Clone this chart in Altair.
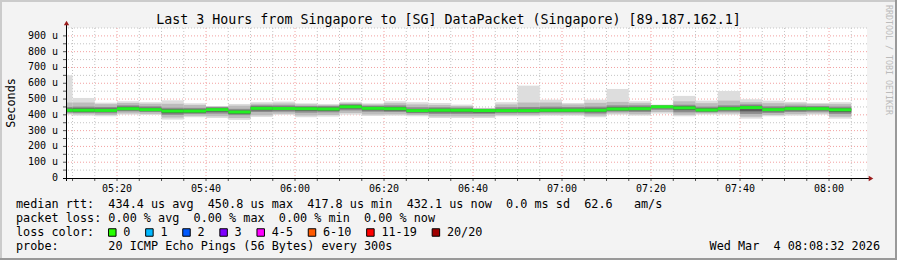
import altair as alt
import pandas as pd

# ---------------- data ----------------
title_text = "Last 3 Hours from Singapore to [SG] DataPacket (Singapore) [89.187.162.1]"
side_text = "RRDTOOL / TOBI OETIKER"
y_title = "Seconds"
domain_start = "05:08:32"
domain_end = "08:08:32"

bin_start = ["05:05", "05:10", "05:15", "05:20", "05:25", "05:30", "05:35", "05:40", "05:45", "05:50", "05:55",
             "06:00", "06:05", "06:10", "06:15", "06:20", "06:25", "06:30", "06:35", "06:40", "06:45", "06:50", "06:55",
             "07:00", "07:05", "07:10", "07:15", "07:20", "07:25", "07:30", "07:35", "07:40", "07:45", "07:50", "07:55",
             "08:00"]
median_us = [429, 429, 428, 439, 433, 424, 424, 433, 418, 441, 440, 439, 437, 451, 441, 439, 427, 429, 429, 427, 427, 427,
             429, 429, 429, 437, 439, 451, 444, 431, 439, 446, 433, 439, 439, 432]
max_us = [651, 507, 477, 486, 480, 492, 473, 456, 469, 480, 484, 473, 469, 482, 473, 486, 480, 475, 465, 444, 480, 585,
          496, 475, 496, 564, 486, 465, 520, 490, 551, 499, 490, 482, 475, 480]
min_us = [401, 395, 391, 401, 399, 370, 385, 380, 368, 387, 400, 385, 389, 401, 393, 395, 391, 380, 380, 380, 391, 391,
          395, 395, 385, 401, 395, 408, 391, 401, 401, 376, 391, 395, 401, 376]
hi2_us = [478, 478, 468, 475, 470, 470, 462, 452, 458, 470, 472, 466, 462, 474, 466, 474, 466, 462, 456, 441, 466, 478,
          478, 466, 476, 482, 474, 462, 486, 474, 490, 480, 474, 472, 468, 468]
lo2_us = [407, 403, 399, 409, 406, 383, 394, 391, 380, 397, 407, 396, 399, 412, 402, 403, 399, 390, 390, 390, 398, 398,
          402, 402, 395, 409, 403, 418, 400, 409, 409, 388, 399, 404, 409, 388]
hi3_us = [450, 452, 450, 460, 454, 445, 444, 450, 438, 460, 460, 456, 456, 468, 458, 460, 448, 448, 446, 438, 448, 450,
          452, 450, 452, 460, 460, 460, 464, 452, 460, 466, 454, 458, 456, 452]
lo3_us = [414, 412, 410, 422, 418, 400, 406, 408, 398, 418, 420, 414, 416, 428, 420, 418, 410, 406, 406, 406, 410, 410,
          414, 414, 408, 420, 418, 432, 416, 416, 420, 406, 412, 418, 420, 406]
hi4_us = [440, 441, 440, 451, 445, 435, 434, 442, 428, 452, 451, 449, 447, 461, 451, 450, 437, 439, 438, 434, 437, 438,
          440, 439, 440, 448, 450, 457, 455, 442, 450, 457, 444, 449, 448, 442]
lo4_us = [420, 418, 418, 429, 424, 410, 413, 420, 406, 428, 429, 426, 425, 440, 429, 426, 416, 416, 416, 414, 417, 417,
          420, 420, 417, 427, 428, 442, 430, 422, 429, 422, 422, 428, 429, 417]

y_major = [100, 200, 300, 400, 500, 600, 700, 800, 900]
y_minor = [50, 150, 250, 350, 450, 550, 650, 750, 850, 950]
y_labels = [0, 100, 200, 300, 400, 500, 600, 700, 800, 900]
x_major = ["05:20", "05:40", "06:00", "06:20", "06:40", "07:00", "07:20", "07:40", "08:00"]
x_minor = ["05:10", "05:15", "05:25", "05:30", "05:35", "05:45", "05:50", "05:55", "06:05", "06:10", "06:15",
           "06:25", "06:30", "06:35", "06:45", "06:50", "06:55", "07:05", "07:10", "07:15", "07:25", "07:30",
           "07:35", "07:45", "07:50", "07:55", "08:05"]

rtt_stats = [434.4, 450.8, 417.8, 432.1]
rtt_sd_ms = 0.0
rtt_ams = 62.6
loss_stats = [0.00, 0.00, 0.00, 0.00]
loss_labels = ["0", "1", "2", "3", "4-5", "6-10", "11-19", "20/20"]
loss_colors = ["#26ff00", "#00b8ff", "#0059ff", "#7e00ff", "#ff00ff", "#ff5a00", "#ff0000", "#a00000"]
probe_text = "20 ICMP Echo Pings (56 Bytes) every 300s"
date_text = "Wed Mar  4 08:08:32 2026"

# ---------------- layout / style ----------------
FONT = "DejaVu Sans Mono"
W, H = 801, 150
OX, OY = 66, 28
PAD = {"left": OX, "top": OY, "right": 897 - OX - W, "bottom": 260 - OY - H}
STEP_MIN = 5
SMOKE_COLORS = ["#dddddd", "#bcbcbc", "#8c8c8c", "#5a5a5a"]
GREEN = "#22f022"
CHW = 7.1  # legend char width


def tmin(s):
    p = [int(v) for v in s.split(":")]
    return p[0] * 60 + p[1] + (p[2] / 60 if len(p) > 2 else 0)


def nb(s):
    return s.replace(" ", "\u00a0")


xs = alt.Scale(domain=[tmin(domain_start), tmin(domain_end)], nice=False, zero=False)
ys = alt.Scale(domain=[0, 950], nice=False, zero=False)

starts = [tmin(s) for s in bin_start]
ends = [s + STEP_MIN for s in starts]

one = pd.DataFrame({"a": [0]})
layers = []

# grid
layers.append(alt.Chart(pd.DataFrame({"v": y_minor})).mark_rule(color="#c4c4c4", strokeDash=[1, 2]).encode(
    y=alt.Y("v:Q", scale=ys, axis=None)))
layers.append(alt.Chart(pd.DataFrame({"t": [tmin(t) for t in x_minor]})).mark_rule(color="#c4c4c4", strokeDash=[1, 2]).encode(
    x=alt.X("t:Q", scale=xs, axis=None)))
layers.append(alt.Chart(pd.DataFrame({"v": y_major})).mark_rule(color="#f2a0a0", strokeDash=[1, 2]).encode(
    y=alt.Y("v:Q", scale=ys, axis=None)))
layers.append(alt.Chart(pd.DataFrame({"t": [tmin(t) for t in x_major]})).mark_rule(color="#f2a0a0", strokeDash=[1, 2]).encode(
    x=alt.X("t:Q", scale=xs, axis=None)))

# smoke: one layer per band, outermost first
bands = [(min_us, max_us), (lo2_us, hi2_us), (lo3_us, hi3_us), (lo4_us, hi4_us)]
for (lo, hi), col in zip(bands, SMOKE_COLORS):
    bdf = pd.DataFrame({"s": starts, "e": ends, "lo": lo, "hi": hi})
    layers.append(alt.Chart(bdf).mark_rect(clip=True, color=col, opacity=1).encode(
        x=alt.X("s:Q", scale=xs, axis=None), x2="e:Q",
        y=alt.Y("lo:Q", scale=ys, axis=None), y2="hi:Q"))

# median
med_df = pd.DataFrame({"s": starts, "e": ends, "m": median_us})
layers.append(alt.Chart(med_df).mark_rule(clip=True, color=GREEN, strokeWidth=3, strokeCap="butt").encode(
    x=alt.X("s:Q", scale=xs, axis=None), x2="e:Q", y=alt.Y("m:Q", scale=ys, axis=None)))

# ticks
layers.append(alt.Chart(pd.DataFrame({"v": y_minor[:-1] + y_major})).mark_rule(color="#555555").encode(
    y=alt.Y("v:Q", scale=ys, axis=None), x=alt.value(-3), x2=alt.value(0)))
layers.append(alt.Chart(pd.DataFrame({"t": [tmin(t) for t in x_minor + x_major]})).mark_rule(color="#555555").encode(
    x=alt.X("t:Q", scale=xs, axis=None), y=alt.value(H), y2=alt.value(H + 3)))

# axis lines + arrows
layers.append(alt.Chart(one).mark_rule(color="#000000").encode(
    x=alt.value(0.5), y=alt.value(-5), y2=alt.value(H + 3)))
layers.append(alt.Chart(one).mark_rule(color="#000000").encode(
    y=alt.value(H + 0.5), x=alt.value(-3), x2=alt.value(W + 3)))
layers.append(alt.Chart(one).mark_point(shape="triangle-up", filled=True, size=28, color="#9b1c1c", opacity=1).encode(
    x=alt.value(0.5), y=alt.value(-5)))
layers.append(alt.Chart(one).mark_point(shape="triangle-right", filled=True, size=28, color="#9b1c1c", opacity=1).encode(
    x=alt.value(W + 4), y=alt.value(H + 0.5)))

# axis labels
xl = pd.DataFrame({"t": [tmin(t) for t in x_major], "lab": x_major})
layers.append(alt.Chart(xl).mark_text(font=FONT, fontSize=10, color="#000000", baseline="alphabetic", align="center").encode(
    x=alt.X("t:Q", scale=xs, axis=None), y=alt.value(164), text="lab:N"))
yl = pd.DataFrame({"v": y_labels, "lab": ["0\u00a0\u00a0" if v == 0 else f"{v} u" for v in y_labels]})
layers.append(alt.Chart(yl).mark_text(font=FONT, fontSize=10, color="#000000", baseline="middle", align="right").encode(
    y=alt.Y("v:Q", scale=ys, axis=None), x=alt.value(-8), text="lab:N"))


def txt(text, x, y, size=11.8, align="left", angle=0, color="#000000", baseline="alphabetic"):
    return alt.Chart(pd.DataFrame({"t": [nb(text)]})).mark_text(
        font=FONT, fontSize=size, align=align, baseline=baseline, angle=angle, color=color).encode(
        text="t:N", x=alt.value(x - OX), y=alt.value(y - OY))


layers.append(txt(title_text, 448.5, 24, size=13.3, align="center"))
layers.append(txt(y_title, 11, 103, size=11.8, align="center", angle=270, baseline="middle"))
layers.append(txt(side_text, 888, 60, size=8.3, align="center", angle=90, baseline="middle", color="#bbbbbb"))

line1 = (f"median rtt:  {rtt_stats[0]:.1f} us avg  {rtt_stats[1]:.1f} us max  {rtt_stats[2]:.1f} us min  "
         f"{rtt_stats[3]:.1f} us now  {rtt_sd_ms:.1f} ms sd  {rtt_ams:.1f}   am/s")
line2 = (f"packet loss: {loss_stats[0]:.2f} % avg  {loss_stats[1]:.2f} % max  {loss_stats[2]:.2f} % min  "
         f"{loss_stats[3]:.2f} % now")
layers.append(txt(line1, 16, 207.5))
layers.append(txt(line2, 16, 221.5))
layers.append(txt("loss color:", 16, 235.5))
layers.append(txt("probe:       " + probe_text, 16, 249.5))
layers.append(txt(date_text, 880, 249.5, align="right"))

sx = 16 + 13 * CHW
for lab, col in zip(loss_labels, loss_colors):
    layers.append(alt.Chart(one).mark_square(size=56, filled=True, color=col, stroke="#000000", strokeWidth=1, opacity=1).encode(
        x=alt.value(sx + 4 - OX), y=alt.value(232.5 - OY)))
    layers.append(txt(lab, sx + 15, 235.5))
    sx += 30 + CHW * len(lab)

# frame
layers.append(alt.Chart(one).mark_rule(color="#cbcbcb", strokeWidth=2).encode(
    x=alt.value(1 - OX), y=alt.value(-OY), y2=alt.value(260 - OY)))
layers.append(alt.Chart(one).mark_rule(color="#cbcbcb", strokeWidth=2).encode(
    y=alt.value(1 - OY), x=alt.value(-OX), x2=alt.value(897 - OX)))
layers.append(alt.Chart(one).mark_rule(color="#999999", strokeWidth=2).encode(
    y=alt.value(259 - OY), x=alt.value(-OX), x2=alt.value(897 - OX)))
layers.append(alt.Chart(one).mark_rule(color="#999999", strokeWidth=2).encode(
    x=alt.value(896 - OX), y=alt.value(-OY), y2=alt.value(260 - OY)))

chart = alt.layer(*layers).properties(
    width=W, height=H, padding=PAD, autosize=alt.AutoSizeParams(type="none"), background="#f3f3f3"
).configure_view(fill="white", strokeWidth=0)

chart.save("out.html", embed_options={"renderer": "svg", "actions": False})
